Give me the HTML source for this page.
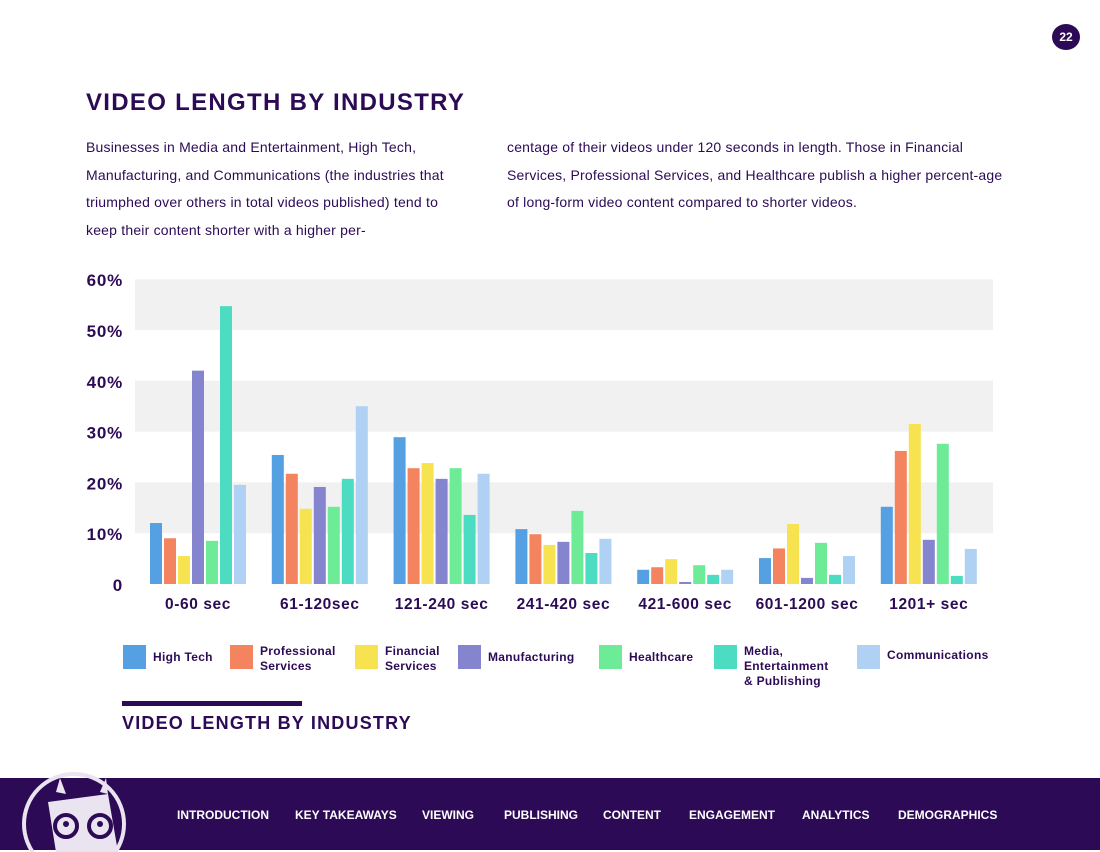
<!DOCTYPE html>
<html><head><meta charset="utf-8"><style>
body{margin:0;width:1100px;height:850px;background:#fff;font-family:"Liberation Sans",sans-serif;position:relative;overflow:hidden;color:#2c0a56}
.abs{position:absolute}
.para{font-size:14px;line-height:27.7px;color:#2c0a56;width:370px;letter-spacing:0.2px}
.nav span{position:absolute;top:30px;color:#fff;font-weight:bold;font-size:12px}
</style></head><body>
<div class="abs" style="left:1052px;top:24px;width:28px;height:26px;border-radius:50%;background:#2c0a56;color:#fff;font-weight:bold;font-size:12px;text-align:center;line-height:26px">22</div>
<div class="abs" style="left:86px;top:89px;font-size:24px;font-weight:bold;letter-spacing:1.3px">VIDEO LENGTH BY INDUSTRY</div>
<div class="abs para" style="left:86px;top:134px">Businesses in Media and Entertainment, High Tech, Manufacturing, and Communications (the industries that triumphed over others in total videos published) tend to keep their content shorter with a higher per-</div>
<div class="abs para" style="left:507px;top:134px;width:505px">centage of their videos under 120 seconds in length. Those in Financial Services, Professional Services, and Healthcare publish a higher percent-age of long-form video content compared to shorter videos.</div>
<svg class="abs" style="left:0;top:0" width="1100" height="700" id="chart"></svg>
<div class="abs" style="left:122px;top:701px;width:180px;height:5px;background:#2c0a56"></div>
<div class="abs" style="left:122px;top:713px;font-size:18px;font-weight:bold;letter-spacing:1.2px">VIDEO LENGTH BY INDUSTRY</div>
<div class="abs nav" style="left:0;top:778px;width:1100px;height:72px;background:#2c0a56">
<svg class="abs" style="left:18px;top:-6px" width="120" height="80">
<circle cx="56" cy="52" r="50" fill="none" stroke="#e9e4ef" stroke-width="4"/>
<path d="M38 20 L42 6 L48 22 Z M82 20 L88 6 L90 22 Z" fill="#e9e4ef"/>
<path d="M30 30 L90 22 L100 80 L38 80 Z" fill="#e9e4ef"/>
<circle cx="48" cy="54" r="11" fill="none" stroke="#2c0a56" stroke-width="4"/><circle cx="48" cy="52" r="3" fill="#2c0a56"/>
<circle cx="82" cy="54" r="11" fill="none" stroke="#2c0a56" stroke-width="4"/><circle cx="82" cy="52" r="3" fill="#2c0a56"/>
</svg>
<span style="left:177px">INTRODUCTION</span>
<span style="left:295px">KEY TAKEAWAYS</span>
<span style="left:422px">VIEWING</span>
<span style="left:504px">PUBLISHING</span>
<span style="left:603px">CONTENT</span>
<span style="left:689px">ENGAGEMENT</span>
<span style="left:802px">ANALYTICS</span>
<span style="left:898px">DEMOGRAPHICS</span>
</div>
<script>
const categories=["0-60 sec","61-120sec","121-240 sec","241-420 sec","421-600 sec","601-1200 sec","1201+ sec"];
const seriesNames=["High Tech","Professional Services","Financial Services","Manufacturing","Healthcare","Media, Entertainment & Publishing","Communications"];
const highTech=[12,25.4,28.9,10.8,2.8,5.1,15.2];
const professional=[9,21.7,22.8,9.8,3.3,7,26.2];
const financial=[5.5,14.8,23.8,7.7,4.9,11.8,31.5];
const manufacturing=[42,19.1,20.7,8.3,0.4,1.2,8.7];
const healthcare=[8.5,15.2,22.8,14.4,3.7,8.1,27.6];
const media=[54.7,20.7,13.6,6.1,1.8,1.8,1.6];
const communications=[19.5,35,21.7,8.9,2.8,5.5,6.9];
const yTicks=[0,10,20,30,40,50,60];
const yTickLabels=["0","10%","20%","30%","40%","50%","60%"];
const series=[highTech,professional,financial,manufacturing,healthcare,media,communications];
const colors=["#559fe3","#f4845f","#f7e250","#8584cf","#6deb96","#4cdcc2","#aed1f4"];
const NS="http://www.w3.org/2000/svg";
const svg=document.getElementById('chart');
const y0=584,pxPer=5.08;
const y=v=>y0-v*pxPer;
const x=(g,s)=>150+g*121.8+s*14;
function mk(t,a){const e=document.createElementNS(NS,t);for(const k in a)e.setAttribute(k,a[k]);svg.appendChild(e);return e;}
for(let i=0;i<6;i+=2){const r=mk('rect',{x:135,y:y(yTicks[6-i]),width:858,height:y(yTicks[5-i])-y(yTicks[6-i]),fill:'#f1f1f1'});

}
yTicks.forEach((t,i)=>{const e=mk('text',{x:123,y:y(t)+7,'text-anchor':'end','font-size':17,'font-weight':'bold',fill:'#2c0a56','letter-spacing':'0.8'});e.textContent=yTickLabels[i];

});
categories.forEach((c,g)=>{series.forEach((s,k)=>{const r=mk('rect',{x:x(g,k),y:y(s[g]),width:12,height:s[g]*pxPer,fill:colors[k]});

});
const t=mk('text',{x:x(g,3)+6,y:609,'text-anchor':'middle','font-size':15.5,'font-weight':'bold',fill:'#2c0a56','letter-spacing':'0.6'});t.textContent=c;

});
const legX=[123,230,355,458,599,714,857];
const legLines=[["High Tech"],["Professional","Services"],["Financial","Services"],["Manufacturing"],["Healthcare"],["Media,","Entertainment","& Publishing"],["Communications"]];
legLines.forEach((ls,i)=>{const r=mk('rect',{x:legX[i],y:645,width:23,height:24,fill:colors[i]});


const sy=ls.length==1?(i==6?659:661):655;
ls.forEach((l,j)=>{const t=mk('text',{x:legX[i]+30,y:sy+j*15,'font-size':12,'font-weight':'bold',fill:'#2c0a56','letter-spacing':'0.3'});t.textContent=l;

});});
</script>
</body></html>
